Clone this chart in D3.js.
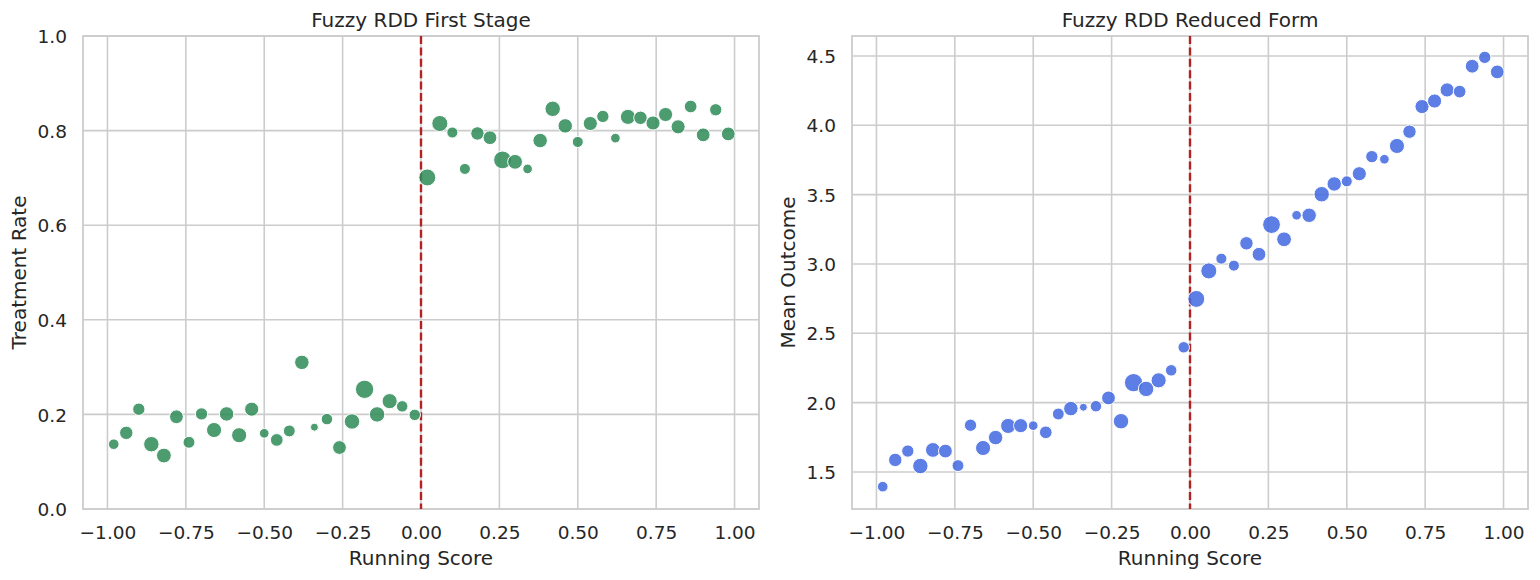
<!DOCTYPE html>
<html>
<head>
<meta charset="utf-8">
<script src="https://cdn.jsdelivr.net/npm/d3@7"></script>
<style>
  body { margin: 0; background: #fff; }
  svg text { font-family: "DejaVu Sans", sans-serif; fill: #262626; }
</style>
</head>
<body>
<div id="chart"></div>
<script>
  // bin centres of the running score
  let binCenters = [-0.98, -0.94, -0.90, -0.86, -0.82, -0.78, -0.74, -0.70, -0.66, -0.62,
                    -0.58, -0.54, -0.50, -0.46, -0.42, -0.38, -0.34, -0.30, -0.26, -0.22,
                    -0.18, -0.14, -0.10, -0.06, -0.02,  0.02,  0.06,  0.10,  0.14,  0.18,
                     0.22,  0.26,  0.30,  0.34,  0.38,  0.42,  0.46,  0.50,  0.54,  0.58,
                     0.62,  0.66,  0.70,  0.74,  0.78,  0.82,  0.86,  0.90,  0.94,  0.98]

  // observations per bin (marker size)
  let binCounts = [17, 24, 21, 30, 28, 25, 20, 21, 29, 27,
                   29, 26, 15, 22, 20, 27, 12, 19, 25, 30,
                   40, 30, 29, 19, 19, 35, 32, 18, 18, 24,
                   25, 38, 28, 15, 27, 30, 27, 18, 26, 21,
                   15, 29, 24, 26, 26, 26, 22, 25, 21, 25]

  let treatRate = [0.137, 0.161, 0.211, 0.137, 0.113, 0.195, 0.141, 0.201, 0.167, 0.201,
                   0.156, 0.211, 0.160, 0.146, 0.165, 0.310, 0.173, 0.190, 0.130, 0.185,
                   0.253, 0.200, 0.228, 0.217, 0.199, 0.701, 0.815, 0.796, 0.719, 0.794,
                   0.785, 0.738, 0.734, 0.719, 0.779, 0.846, 0.810, 0.776, 0.815, 0.830,
                   0.784, 0.829, 0.827, 0.816, 0.834, 0.808, 0.851, 0.791, 0.844, 0.793]

  let meanOutcome = [1.394, 1.587, 1.651, 1.543, 1.659, 1.651, 1.546, 1.837, 1.673, 1.748,
                     1.832, 1.834, 1.834, 1.786, 1.918, 1.957, 1.967, 1.974, 2.034, 1.866,
                     2.144, 2.099, 2.161, 2.233, 2.399, 2.748, 2.950, 3.038, 2.988, 3.149,
                     3.070, 3.284, 3.178, 3.351, 3.351, 3.503, 3.577, 3.596, 3.651, 3.774,
                     3.755, 3.851, 3.954, 4.135, 4.175, 4.255, 4.243, 4.426, 4.490, 4.385]

  let xTicks     = [-1.00, -0.75, -0.50, -0.25, 0.00, 0.25, 0.50, 0.75, 1.00]
  let yTicksLeft = [0.0, 0.2, 0.4, 0.6, 0.8, 1.0]
  let yTicksRight = [1.5, 2.0, 2.5, 3.0, 3.5, 4.0, 4.5]

  let width = 1540, height = 580

  let svg = d3.select('#chart')
              .append('svg:svg')
              .attr('width', width)
              .attr('height', height)

  let areaScale = d3.scaleLinear().domain([12, 40]).range([16, 84])

  function _panel(opts) {
    let g = svg.append('svg:g').attr('transform', `translate(${opts.left},${opts.top})`),
        w = opts.w, h = opts.h
    let x = d3.scaleLinear().domain([-1.078, 1.078]).range([0, w])
    let y = d3.scaleLinear().domain(opts.yDomain).range([h, 0])

    // grid
    g.append('g').selectAll('line').data(xTicks).enter().append('line')
      .attr('x1', d => x(d)).attr('x2', d => x(d))
      .attr('y1', 0).attr('y2', h)
      .attr('stroke', '#cccccc').attr('stroke-width', 1.6)
    g.append('g').selectAll('line').data(opts.yTicks).enter().append('line')
      .attr('y1', d => y(d)).attr('y2', d => y(d))
      .attr('x1', 0).attr('x2', w)
      .attr('stroke', '#cccccc').attr('stroke-width', 1.6)

    // spines
    g.append('rect').attr('width', w).attr('height', h)
      .attr('fill', 'none').attr('stroke', '#cccccc').attr('stroke-width', 1.8)

    // axes (no tick marks, like seaborn whitegrid)
    let xa = g.append('g').attr('transform', `translate(0,${h})`)
      .call(d3.axisBottom(x).tickValues(xTicks).tickFormat(d3.format('.2f')).tickSize(0).tickPadding(17))
    let ya = g.append('g')
      .call(d3.axisLeft(y).tickValues(opts.yTicks).tickFormat(d3.format('.1f')).tickSize(0).tickPadding(16))
    ;[xa, ya].forEach(a => {
      a.select('.domain').remove()
      a.selectAll('text').attr('font-size', 18.5).attr('font-family', '"DejaVu Sans", sans-serif').attr('fill', '#262626')
    })
    ya.selectAll('text').attr('dy', '0.36em')

    // cutoff line
    g.append('line')
      .attr('x1', x(0)).attr('x2', x(0)).attr('y1', 0).attr('y2', h)
      .attr('stroke', '#b22222').attr('stroke-width', 2.4)
      .attr('stroke-dasharray', '8,3.4')

    // points
    g.append('g').selectAll('circle').data(opts.values).enter().append('circle')
      .attr('cx', (d, i) => x(binCenters[i]))
      .attr('cy', d => y(d))
      .attr('r', (d, i) => Math.sqrt(areaScale(binCounts[i])))
      .attr('fill', opts.color).attr('fill-opacity', 0.85)
      .attr('stroke', '#ffffff').attr('stroke-width', 1)

    // labels
    g.append('text').attr('x', w / 2).attr('y', -9)
      .attr('text-anchor', 'middle').attr('font-size', 20).text(opts.title)
    g.append('text').attr('x', w / 2).attr('y', h + 56)
      .attr('text-anchor', 'middle').attr('font-size', 20).text('Running Score')
    g.append('text')
      .attr('transform', `translate(${opts.yLabelX},${h / 2}) rotate(-90)`)
      .attr('text-anchor', 'middle').attr('font-size', 20).text(opts.yLabel)
  }

  _panel({ left: 83, top: 36, w: 676, h: 473, yDomain: [0, 1], yTicks: yTicksLeft,
           values: treatRate, color: '#2e8b57', title: 'Fuzzy RDD First Stage',
           yLabel: 'Treatment Rate', yLabelX: -57 })

  _panel({ left: 852, top: 36, w: 676, h: 473, yDomain: [1.233, 4.644], yTicks: yTicksRight,
           values: meanOutcome, color: '#4169e1', title: 'Fuzzy RDD Reduced Form',
           yLabel: 'Mean Outcome', yLabelX: -57 })
</script>
</body>
</html>
